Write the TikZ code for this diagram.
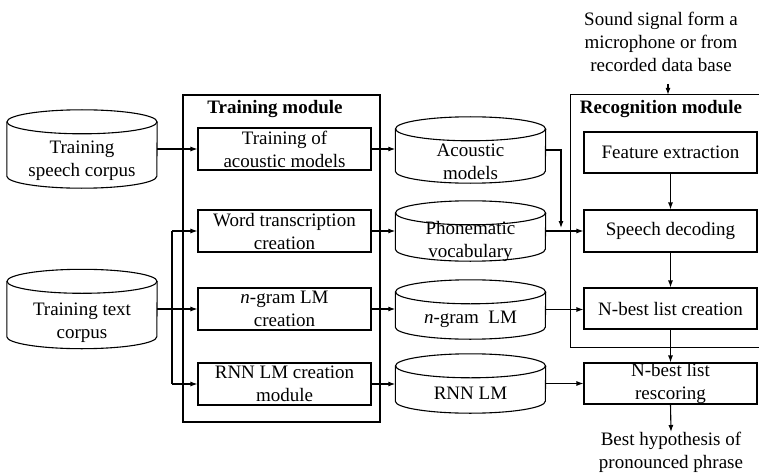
\documentclass[tikz,border=0pt]{standalone}
\usepackage{fontspec}
\setmainfont{Liberation Serif}
\usetikzlibrary{arrows.meta}
\newcommand\fs{\fontsize{19}{23}\selectfont}
\newcommand\cylpath[1]{%
  \draw[ln] ([yshift=-12pt]#1.north west) -- ([yshift=12pt]#1.south west)
    arc[start angle=180,end angle=360,x radius=75pt,y radius=12pt]
    -- ([yshift=-12pt]#1.north east);
  \draw[ln] ([yshift=-12pt]#1.north) ellipse[x radius=75pt,y radius=12pt];}
\tikzset{
  ln/.style={line width=1.1pt},
  arr/.style={ln,-{Latex[length=7pt,width=5pt]}},
  box/.style={draw,ln,minimum width=173pt,minimum height=42pt,inner sep=0pt,align=center,font=\fs},
  cyl/.style={minimum width=150pt,inner sep=0pt},
  txt/.style={align=center,inner sep=0pt,font=\fs},
}
\begin{document}
\begin{tikzpicture}[x=1pt,y=1pt]
\useasboundingbox (0,0) rectangle (759,-473);
% modules
\node[draw,ln,minimum width=197pt,minimum height=327pt,inner sep=0pt] (tm) at (281.5,-258.5) {};
\node[txt,font=\fs\bfseries] (tmt) at (275,-109) {Training module};
\node[minimum width=188pt,minimum height=252pt,inner sep=0pt] (rm) at (665,-221) {};
\draw[ln] (rm.north east) -- (rm.north west) -- (rm.south west) -- (rm.south east);
\node[txt,font=\fs\bfseries] (rmt) at (661,-109) {Recognition module};
% cylinders
\node[cyl,minimum height=78pt] (sc) at (82,-149) {};
\node[txt] (sct) at (82,-160.5) {Training\\speech corpus};
\node[cyl,minimum height=79pt] (tc) at (82,-309) {};
\node[txt] (tct) at (82,-322.5) {Training text\\corpus};
\node[cyl,minimum height=66pt] (am) at (470.5,-150) {};
\node[txt] (amt) at (470.5,-162) {Acoustic\\models};
\node[cyl,minimum height=60pt] (pv) at (470.5,-231) {};
\node[txt] (pvt) at (470.5,-241.5) {Phonematic\\vocabulary};
\node[cyl,minimum height=59pt] (ng) at (470.5,-309.5) {};
\node[txt] (ngt) at (470.5,-319) {\textit{n}-gram\ \ LM};
\node[cyl,minimum height=59pt] (rl) at (470.5,-383.5) {};
\node[txt] (rlt) at (470.5,-393) {RNN LM};
\cylpath{sc}\cylpath{tc}\cylpath{am}\cylpath{pv}\cylpath{ng}\cylpath{rl}
% training boxes
\node[box] (tam) at (284.5,-149) {Training of\\acoustic models};
\node[box] (wtc) at (284.5,-231) {Word transcription\\creation};
\node[box] (ngc) at (284.5,-309) {\textit{n}-gram LM\\creation};
\node[box] (rnc) at (284.5,-384) {RNN LM creation\\module};
% recognition boxes
\node[box,minimum height=41pt] (fe) at (670.5,-152.5) {Feature extraction};
\node[box] (sd) at (670.5,-231) {Speech decoding};
\node[box,minimum height=41pt] (nbc) at (670.5,-308.5) {N-best list creation};
\node[box,minimum height=41pt] (nbr) at (670.5,-383.5) {N-best list\\rescoring};
% texts
\node[txt,anchor=north] (snd) at (661,-12) {Sound signal form a\\microphone or from\\recorded data base};
\node[txt,anchor=north] (best) at (671,-432) {Best hypothesis of\\pronounced phrase};
% connectors
\coordinate (jt) at (172,-231);
\coordinate (jb) at (172,-384);
\coordinate (ja) at (561,-228);
\draw[arr] (sc.east) -- (tam.west);
\draw[arr] (tc.east) -- (ngc.west);
\draw[ln] (jt) -- (jb);
\draw[arr] (jt) -- (wtc.west);
\draw[arr] (jb) -- (rnc.west);
\draw[arr] (tam.east) -- (tam.east -| am.west);
\draw[arr] (wtc.east) -- (wtc.east -| pv.west);
\draw[arr] (ngc.east) -- (ngc.east -| ng.west);
\draw[arr] (rnc.east) -- (rnc.east -| rl.west);
\draw[arr] (am.east) -| (ja);
\draw[arr] (pv.east) -- (sd.west);
\draw[arr] (ng.east) -- (ng.east -| nbc.west);
\draw[arr] (rl.east) -- (rl.east -| nbr.west);
\draw[arr] (fe.south) -- (sd.north);
\draw[arr] (sd.south) -- (nbc.north);
\draw[arr] (nbc.south) -- (nbr.north);
\draw[arr] (nbr.south) -- (best.north);
\draw[arr] ([xshift=7pt,yshift=-12pt]snd.south) -- ([xshift=7pt]snd.south |- rm.north);
\end{tikzpicture}
\end{document}
